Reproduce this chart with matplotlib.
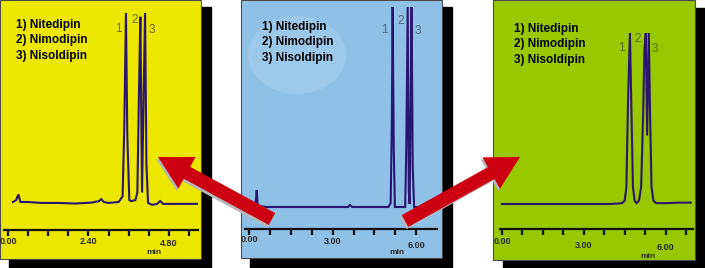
import matplotlib
matplotlib.use("Agg")
import matplotlib.pyplot as plt
from matplotlib.patches import Rectangle, Ellipse, FancyArrow
from matplotlib.transforms import blended_transform_factory

plt.rcParams['font.family'] = ['Liberation Sans', 'DejaVu Sans']

# ---------------- data ----------------
compounds = ["1) Nitedipin", "2) Nimodipin", "3) Nisoldipin"]
peak_ids = ["1", "2", "3"]

# panel 1 (yellow) chromatogram: time (min) / signal (% of peak 1)
p1_time = [0.15, 0.24, 0.31, 0.37, 0.6, 1.0, 1.5, 2.0, 2.5, 2.72, 2.78, 2.86, 3.0, 3.3,
           3.42, 3.47, 3.52, 3.56, 3.62, 3.68, 3.8, 3.86, 3.91, 3.95, 4.0, 4.05, 4.09,
           4.13, 4.18, 4.3, 4.45, 4.54, 4.63, 4.8, 5.2, 5.67]
p1_signal = [0, 1, 4, 0, 0, -0.5, -0.5, -0.8, -0.3, 0.5, 1.5, 0, -0.5, 0,
             3, 40, 100, 35, 1, 0.5, 1, 5, 60, 98, 5, 60, 100,
             20, -0.5, -1.5, -1, 0.5, -1, -1, -1, -1]
p1_ticks = [0.0, 0.6, 1.2, 1.8, 2.4, 3.0, 3.6, 4.2, 4.8, 5.4]
p1_labels = ["0.00", "2.40", "4.80"]
p1_label_pos = [0.0, 2.4, 4.8]

# panel 2 (blue)
p2_time = [0.18, 0.25, 0.28, 0.31, 0.40, 0.6, 1.5, 3.0, 3.55, 3.62, 3.7, 4.5, 5.0,
           5.08, 5.12, 5.15, 5.19, 5.23, 5.3, 5.5, 5.6, 5.64, 5.69, 5.73, 5.76, 5.8,
           5.83, 5.87, 5.92, 6.2]
p2_signal = [1, 3, 8.5, 1, 0.5, 0, 0, 0, 0, 1, 0, 0, 0,
             2, 40, 100, 30, 0, 0, 0, 0, 30, 100, 8, 1.5, 60,
             100, 20, 0, 0]
p2_ticks = [0.0, 0.75, 1.5, 2.25, 3.0, 3.75, 4.5, 5.25, 6.0]
p2_labels = ["0.00", "3.00", "6.00"]
p2_label_pos = [0.0, 3.0, 6.0]

# panel 3 (green)
p3_time = [0.0, 1.0, 2.0, 3.0, 4.0, 4.4, 4.5, 4.56, 4.62, 4.69, 4.75, 4.8, 4.86, 4.93,
           5.02, 5.1, 5.17, 5.22, 5.27, 5.32, 5.38, 5.43, 5.48, 5.55, 5.65, 6.0, 6.5, 6.92]
p3_signal = [0, 0, 0, 0, 0, 0.5, 2, 10, 60, 100, 50, 10, 2, 0.5,
             2, 10, 50, 90, 100, 40, 100, 50, 10, 2, 0.5, 0.5, 0.8, 0.8]
p3_ticks = [0.0, 0.75, 1.5, 2.25, 3.0, 3.75, 4.5, 5.25, 6.0, 6.75]
p3_labels = ["0.00", "3.00", "6.00"]
p3_label_pos = [0.0, 3.0, 6.0]

# ---------------- layout ----------------
W, H = 705, 268
fig = plt.figure(figsize=(W / 100, H / 100), dpi=100)
bg = fig.add_axes([0, 0, 1, 1], zorder=0)
bg.set_xlim(0, W)
bg.set_ylim(H, 0)
bg.axis('off')

line_col = '#2a1670'

panels = [
    dict(box=(0, 0, 201, 259), color='#ede700', shadow=(9, 7, 211, 268),
         axis=(4, 198, 230), xlim=(-0.12, 5.67), base=202, top=13,
         time=p1_time, sig=p1_signal, ticks=p1_ticks, labels=p1_labels, lpos=p1_label_pos,
         lab_y=[241, 241, 244], min_xy=(154, 252),
         legend_xy=(16, 25), peak_lab=[(118, 29), (135, 20), (152, 30)], peak_col='#6e6a2e'),
    dict(box=(241, 0, 442, 258), color='#8fc0e6', shadow=(250, 7, 452, 268),
         axis=(245, 437, 229), xlim=(-0.14, 6.74), base=207, top=7,
         time=p2_time, sig=p2_signal, ticks=p2_ticks, labels=p2_labels, lpos=p2_label_pos,
         lab_y=[239, 242, 245], min_xy=(397, 253),
         legend_xy=(262, 27), peak_lab=[(384, 30), (401, 21), (418, 31)], peak_col='#56647a'),
    dict(box=(493, 0, 695, 260), color='#99c800', shadow=(503, 8, 705, 268),
         axis=(500, 693, 229), xlim=(-0.07, 7.0), base=204, top=33,
         time=p3_time, sig=p3_signal, ticks=p3_ticks, labels=p3_labels, lpos=p3_label_pos,
         lab_y=[242, 245, 247], min_xy=(648, 256),
         legend_xy=(514, 29), peak_lab=[(621, 48), (638, 39), (655, 49)], peak_col='#55701a'),
]

for i, p in enumerate(panels):
    x0, y0, x1, y1 = p['box']
    sx0, sy0, sx1, sy1 = p['shadow']
    bg.add_patch(Rectangle((sx0, sy0), sx1 - sx0, sy1 - sy0, color='black', zorder=1))
    bg.add_patch(Rectangle((x0, y0), x1 - x0, y1 - y0, facecolor=p['color'],
                           edgecolor='#4a4a4a', lw=0.8, zorder=2))
    if i == 1:
        bg.add_patch(Ellipse((297, 55), 98, 78, color='#9cc8ea', zorder=2.5, lw=0))

    # chart axes
    ax_l, ax_r, ax_y = p['axis']
    ax = fig.add_axes([ax_l / W, (H - ax_y) / H, (ax_r - ax_l) / W, ax_y / H], zorder=3)
    ax.patch.set_alpha(0)
    ax.set_xlim(*p['xlim'])
    scale = (p['base'] - p['top']) / 100.0
    ybot = -(ax_y - p['base']) / scale
    ytop = p['base'] / scale
    ax.set_ylim(ybot, ytop)
    ax.plot(p['time'], p['sig'], color=line_col, lw=1.5, solid_joinstyle='miter')
    for s in ['top', 'left', 'right']:
        ax.spines[s].set_visible(False)
    ax.spines['bottom'].set_linewidth(1.6)
    ax.spines['bottom'].set_color('#111111')
    ax.set_yticks([])
    ax.set_xticks(p['ticks'])
    ax.set_xticklabels([])
    ax.tick_params(axis='x', direction='out', length=4.5, width=1.6, color='#111111')

    tr = blended_transform_factory(ax.transData, bg.transData)
    for lab, pos, ly in zip(p['labels'], p['lpos'], p['lab_y']):
        bg.text(pos, ly, lab, transform=tr, ha='center', va='center', fontsize=6.5,
                fontweight='bold', color='#2a2a2a', zorder=4)
    bg.text(p['min_xy'][0], p['min_xy'][1], 'min', ha='center', va='center',
            fontsize=6, fontweight='bold', color='#2a2a2a', zorder=4)

    lx, ly = p['legend_xy']
    for k, name in enumerate(compounds):
        bg.text(lx, ly + 15.5 * k, name, ha='left', va='center', fontsize=8.5,
                fontweight='bold', color='black', zorder=4)
    for lab, (px, py) in zip(peak_ids, p['peak_lab']):
        bg.text(px, py, lab, ha='center', va='center', fontsize=8.5,
                color=p['peak_col'], zorder=4)

# ---------------- arrows ----------------
top = fig.add_axes([0, 0, 1, 1], zorder=10)
top.set_xlim(0, W)
top.set_ylim(H, 0)
top.axis('off')
top.patch.set_alpha(0)

arrows = [((272, 219), (158, 157)), ((405, 221), (520, 157))]
for (tx, ty), (hx, hy) in arrows:
    for off, col, z in [((-1.8, 2.2), '#b8b8b8', 1), ((0, 0), '#cc0011', 2)]:
        a = FancyArrow(tx + off[0], ty + off[1], hx - tx, hy - ty, width=13.5,
                       head_width=36, head_length=33, length_includes_head=True,
                       color=col, lw=0, zorder=z)
        top.add_patch(a)

fig.savefig('out.png', dpi=100)
